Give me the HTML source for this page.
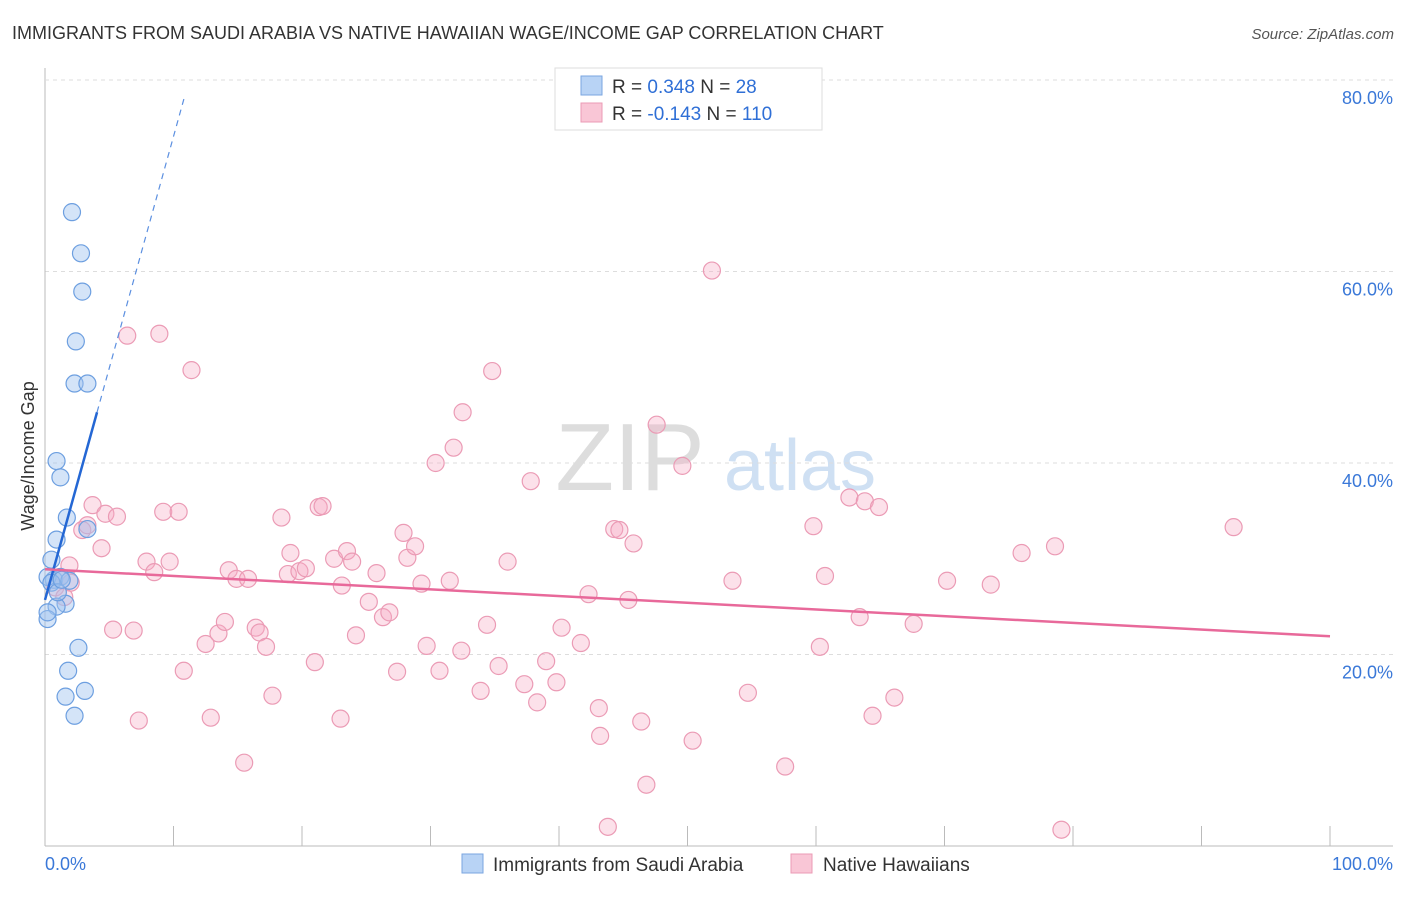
<!DOCTYPE html>
<html><head><meta charset="utf-8"><style>
body{margin:0;background:#fff;font-family:"Liberation Sans",sans-serif}
svg text{font-family:"Liberation Sans",sans-serif}
</style></head><body>
<svg width="1406" height="892" xmlns="http://www.w3.org/2000/svg">
<text x="12" y="39" font-size="18" fill="#333">IMMIGRANTS FROM SAUDI ARABIA VS NATIVE HAWAIIAN WAGE/INCOME GAP CORRELATION CHART</text>
<text x="1394" y="39" font-size="15" fill="#555" font-style="italic" text-anchor="end">Source: ZipAtlas.com</text>
<text x="630" y="490" font-size="96" fill="#ddd" font-family="Liberation Serif,serif" text-anchor="middle">ZIP</text>
<text x="800" y="490" font-size="72" fill="#cfe0f3" text-anchor="middle">atlas</text>
<text transform="translate(34,456) rotate(-90)" font-size="18" fill="#333" text-anchor="middle">Wage/Income Gap</text>
<g id="grid"></g><g id="ticks"></g><g id="pts"></g><g id="lines"></g>
<g>
<rect x="555" y="68" width="267" height="62" fill="#fff" stroke="#ddd"/>
<rect x="581" y="76" width="21" height="19" fill="#b8d3f5" stroke="#7aa6e0"/>
<rect x="581" y="103" width="21" height="19" fill="#f9c6d6" stroke="#eb9bb5"/>
<text x="612" y="93" font-size="19" fill="#333">R = <tspan fill="#2f6fd6">0.348</tspan>   N = <tspan fill="#2f6fd6">28</tspan></text>
<text x="612" y="120" font-size="19" fill="#333">R = <tspan fill="#2f6fd6">-0.143</tspan>   N = <tspan fill="#2f6fd6">110</tspan></text>
</g>
<g>
<rect x="462" y="854" width="21" height="19" fill="#b8d3f5" stroke="#7aa6e0"/>
<text x="493" y="871" font-size="19" fill="#333">Immigrants from Saudi Arabia</text>
<rect x="791" y="854" width="21" height="19" fill="#f9c6d6" stroke="#eb9bb5"/>
<text x="823" y="871" font-size="19" fill="#333">Native Hawaiians</text>
</g>
<text x="45" y="870" font-size="18" fill="#3a78d8">0.0%</text>
<text x="1393" y="870" font-size="18" fill="#3a78d8" text-anchor="end">100.0%</text>
</svg>
<script>
const blueX=[2.1,2.8,2.9,2.4,2.3,3.3,0.9,1.2,1.7,0.9,3.3,0.7,1.2,1.9,0.2,1.6,0.9,0.2,2.6,1.8,1.6,3.1,2.3,0.5,0.5,1.0,0.2,1.3];
const blueY=[66.2,61.9,57.9,52.7,48.3,48.3,40.2,38.5,34.3,32.0,33.1,27.8,28.1,27.7,28.1,25.3,25.0,23.7,20.7,18.3,15.6,16.2,13.6,29.9,27.5,26.5,24.4,27.8];
const pinkX=[6.4,8.9,11.4,3.7,4.7,5.6,2.9,3.3,4.4,1.9,1.2,0.8,9.2,10.4,7.9,8.5,9.7,5.3,6.9,7.3,10.8,12.9,12.5,13.5,14.0,14.3,14.9,15.8,15.5,16.4,16.7,17.2,17.7,18.4,19.1,18.9,19.8,20.3,21.0,21.3,21.6,22.5,23.0,23.1,23.5,23.9,24.2,25.2,25.8,26.3,26.8,27.4,27.9,28.2,28.8,29.3,29.7,30.4,30.7,31.5,31.8,32.4,32.5,33.9,34.4,34.8,35.3,36.0,37.3,37.8,38.3,39.0,39.8,40.2,41.7,42.3,43.1,43.2,43.8,44.3,44.7,45.4,45.8,46.4,46.8,47.6,49.6,50.4,51.9,53.5,54.7,57.6,59.8,60.3,60.7,62.6,63.8,64.4,64.9,63.4,66.1,67.6,70.2,73.6,76.0,78.6,79.1,92.5,2.0,1.5];
const pinkY=[53.3,53.5,49.7,35.6,34.7,34.4,33.0,33.5,31.1,29.3,28.1,27.0,34.9,34.9,29.7,28.6,29.7,22.6,22.5,13.1,18.3,13.4,21.1,22.2,23.4,28.8,27.9,27.9,8.7,22.8,22.3,20.8,15.7,34.3,30.6,28.4,28.7,29.0,19.2,35.4,35.5,30.0,13.3,27.2,30.8,29.7,22.0,25.5,28.5,23.9,24.4,18.2,32.7,30.1,31.3,27.4,20.9,40.0,18.3,27.7,41.6,20.4,45.3,16.2,23.1,49.6,18.8,29.7,16.9,38.1,15.0,19.3,17.1,22.8,21.2,26.3,14.4,11.5,2.0,33.1,33.0,25.7,31.6,13.0,6.4,44.0,39.7,11.0,60.1,27.7,16.0,8.3,33.4,20.8,28.2,36.4,36.0,13.6,35.4,23.9,15.5,23.2,27.7,27.3,30.6,31.3,1.7,33.3,27.5,26.0];
const yTicks=[20,40,60,80];
const xTicks=[0,10,20,30,40,50,60,70,80,90,100];
const blueTrend=[25.7,4.84];   // intercept, slope
const pinkTrend=[28.9,21.9];   // y at x=0, y at x=100
const NS='http://www.w3.org/2000/svg';
const sx=v=>45+v*12.85, sy=v=>846-v*9.575;
function mk(t,a,p){const e=document.createElementNS(NS,t);for(const k in a)e.setAttribute(k,a[k]);p.appendChild(e);return e;}
const grid=document.getElementById('grid'),ticks=document.getElementById('ticks'),pts=document.getElementById('pts'),lines=document.getElementById('lines');
yTicks.forEach(v=>{
 const l=mk('line',{x1:45,x2:1393,y1:sy(v),y2:sy(v),stroke:'#ddd','stroke-dasharray':'4,4'},grid);
 
 
 const t=mk('text',{x:1393,y:sy(v)+24,'font-size':18,fill:'#3a78d8','text-anchor':'end'},ticks);
 t.textContent=v.toFixed(1)+'%';
 
 
});
mk('line',{x1:45,x2:45,y1:68,y2:846,stroke:'#bbb'},grid);
mk('line',{x1:45,x2:1393,y1:846,y2:846,stroke:'#bbb'},grid);
mk('line',{x1:45,x2:1393,y1:80,y2:80,stroke:'#ddd','stroke-dasharray':'4,4'},grid);
xTicks.forEach(v=>{
 const l=mk('line',{x1:sx(v),x2:sx(v),y1:826,y2:846,stroke:'#bbb'},ticks);
 
 
});
pinkX.forEach((x,i)=>{
 const c=mk('circle',{cx:sx(x),cy:sy(pinkY[i]),r:8.5,fill:'rgba(245,170,196,0.35)',stroke:'#eb9bb5','stroke-width':1.2},pts);
 
 
});
blueX.forEach((x,i)=>{
 const c=mk('circle',{cx:sx(x),cy:sy(blueY[i]),r:8.5,fill:'rgba(160,196,240,0.45)',stroke:'#6d9fe0','stroke-width':1.2},pts);
 
 
});
const bl=mk('line',{x1:sx(0),y1:sy(blueTrend[0]),x2:sx(4.05),y2:sy(blueTrend[0]+blueTrend[1]*4.05),stroke:'#2467d4','stroke-width':2.5},lines);


const bd=mk('line',{x1:sx(4.05),y1:sy(blueTrend[0]+blueTrend[1]*4.05),x2:sx(10.9),y2:sy(blueTrend[0]+blueTrend[1]*10.9),stroke:'#5b8fe0','stroke-width':1.2,'stroke-dasharray':'6,5'},lines);


const pl=mk('line',{x1:sx(0),y1:sy(pinkTrend[0]),x2:sx(100),y2:sy(pinkTrend[1]),stroke:'#e8699a','stroke-width':2.5},lines);


</script>
</body></html>
